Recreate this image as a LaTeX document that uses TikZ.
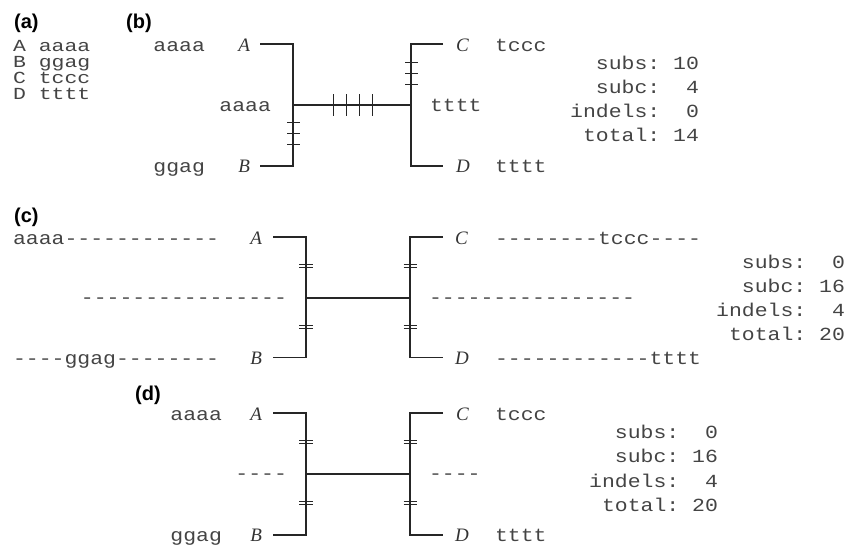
\documentclass[tikz,border=0pt]{standalone}
\usepackage{fontspec}
\setmainfont{Liberation Serif}
\newfontfamily\seqf[FakeStretch=1.16]{Liberation Mono}
\newfontfamily\seqa[FakeStretch=1.27]{Liberation Mono}
\newfontfamily\panf{Liberation Sans}
\definecolor{txt}{HTML}{444444}
\definecolor{lbl}{HTML}{333333}
\definecolor{ln}{HTML}{262626}
\tikzset{
  seq/.style={font=\seqf\fontsize{18.5}{18.5}\selectfont, inner sep=0pt, outer sep=0pt, text=txt},
  stat/.style={seq, anchor=base east},
  lab/.style={font=\itshape\fontsize{19}{19}\selectfont, inner sep=0pt, outer sep=0pt, text=lbl},
  pan/.style={font=\panf\bfseries\fontsize{20}{20}\selectfont, inner sep=0pt, anchor=base west},
  br/.style={line width=1.1pt, draw=ln},
  tk/.style={line width=1pt, draw=ln},
  dtk/.style={line width=0.8pt, draw=ln},
}
\begin{document}
\begin{tikzpicture}[x=1pt,y=-1pt]
\path[use as bounding box] (0,0) rectangle (856,546);
% ---------------- (a)
\node[pan] (pa) at (14,28) {(a)};
\node[seq, anchor=base west, align=left, font=\seqa\fontsize{16.9}{15.8}\selectfont] (aln) at (13,99)
  {A aaaa\\B ggag\\C tccc\\D tttt};
% ---------------- (b)
\node[pan] (pb) at (126,28) {(b)};
\coordinate (bA) at (260,44);  \coordinate (bAj) at (293,44);
\coordinate (bB) at (260,166); \coordinate (bBj) at (293,166);
\coordinate (bL) at (293,105); \coordinate (bR) at (411,105);
\coordinate (bC) at (443,44);  \coordinate (bCj) at (411,44);
\coordinate (bD) at (443,166); \coordinate (bDj) at (411,166);
\draw[br] (bA) -- (bAj) -- (bBj) -- (bB);
\draw[br] (bC) -- (bCj) -- (bDj) -- (bD);
\draw[br] (bL) -- (bR);
\foreach \x in {333,346,359,372} \draw[tk] (\x,94) -- (\x,116);
\foreach \y in {122,133,144} \draw[tk] (287,\y) -- (300,\y);
\foreach \y in {62,73,84} \draw[tk] (405,\y) -- (418,\y);
\node[seq,anchor=base east] (bsA) at (205,51.5) {aaaa};
\node[lab,anchor=base east] (blA) at (250,51.5) {A};
\node[seq,anchor=base east] (bsL) at (271,111) {aaaa};
\node[seq,anchor=base east] (bsB) at (205,172) {ggag};
\node[lab,anchor=base east] (blB) at (250,172) {B};
\node[lab,anchor=base west] (blC) at (456,51.5) {C};
\node[seq,anchor=base west] (bsC) at (495,51.5) {tccc};
\node[seq,anchor=base west] (bsR) at (430,111) {tttt};
\node[lab,anchor=base west] (blD) at (456,172) {D};
\node[seq,anchor=base west] (bsD) at (495,172) {tttt};
\node[stat] (bt1) at (699,69) {subs:\ 10};
\node[stat] (bt2) at (699,93) {subc:\ \ 4};
\node[stat] (bt3) at (699,117) {indels:\ \ 0};
\node[stat] (bt4) at (699,141) {total:\ 14};
% ---------------- (c)
\node[pan] (pc) at (14,222) {(c)};
\coordinate (cA) at (273,237);   \coordinate (cAj) at (306,237);
\coordinate (cB) at (273,357.5); \coordinate (cBj) at (306,357.5);
\coordinate (cL) at (306,298);   \coordinate (cR) at (410,298);
\coordinate (cC) at (443,237);   \coordinate (cCj) at (410,237);
\coordinate (cD) at (443,357.5); \coordinate (cDj) at (410,357.5);
\draw[br] (cA) -- (cAj) -- (cBj) -- (cB);
\draw[br] (cC) -- (cCj) -- (cDj) -- (cD);
\draw[br] (cL) -- (cR);
\foreach \y in {264,325} {
  \draw[dtk] (299,\y) -- (312.5,\y); \draw[dtk] (299,\y+3) -- (312.5,\y+3);
  \draw[dtk] (403.5,\y) -- (417,\y); \draw[dtk] (403.5,\y+3) -- (417,\y+3);
}
\node[seq,anchor=base west] (csA) at (13,244) {aaaa------------};
\node[lab,anchor=base east] (clA) at (262,244) {A};
\node[seq,anchor=base east] (csL) at (287,303) {----------------};
\node[seq,anchor=base west] (csB) at (13,364) {----ggag--------};
\node[lab,anchor=base east] (clB) at (262,364) {B};
\node[lab,anchor=base west] (clC) at (455,244) {C};
\node[seq,anchor=base west] (csC) at (495,244) {--------tccc----};
\node[seq,anchor=base west] (csR) at (429,303) {----------------};
\node[lab,anchor=base west] (clD) at (455,364) {D};
\node[seq,anchor=base west] (csD) at (495,364) {------------tttt};
\node[stat] (ct1) at (845,268) {subs:\ \ 0};
\node[stat] (ct2) at (845,292) {subc:\ 16};
\node[stat] (ct3) at (845,316) {indels:\ \ 4};
\node[stat] (ct4) at (845,340) {total:\ 20};
% ---------------- (d)
\node[pan] (pd) at (135,400) {(d)};
\coordinate (dA) at (273,413);   \coordinate (dAj) at (306,413);
\coordinate (dB) at (273,535);   \coordinate (dBj) at (306,535);
\coordinate (dL) at (306,474);   \coordinate (dR) at (410,474);
\coordinate (dC) at (443,413);   \coordinate (dCj) at (410,413);
\coordinate (dD) at (443,535);   \coordinate (dDj) at (410,535);
\draw[br] (dA) -- (dAj) -- (dBj) -- (dB);
\draw[br] (dC) -- (dCj) -- (dDj) -- (dD);
\draw[br] (dL) -- (dR);
\foreach \y in {440,501} {
  \draw[dtk] (299,\y) -- (312.5,\y); \draw[dtk] (299,\y+3) -- (312.5,\y+3);
  \draw[dtk] (403.5,\y) -- (417,\y); \draw[dtk] (403.5,\y+3) -- (417,\y+3);
}
\node[seq,anchor=base east] (dsA) at (222,420) {aaaa};
\node[lab,anchor=base east] (dlA) at (262,420) {A};
\node[seq,anchor=base east] (dsL) at (287,479) {----};
\node[seq,anchor=base east] (dsB) at (222,541) {ggag};
\node[lab,anchor=base east] (dlB) at (262,541) {B};
\node[lab,anchor=base west] (dlC) at (456,420) {C};
\node[seq,anchor=base west] (dsC) at (495,420) {tccc};
\node[seq,anchor=base west] (dsR) at (429,479) {----};
\node[lab,anchor=base west] (dlD) at (455,541) {D};
\node[seq,anchor=base west] (dsD) at (495,541) {tttt};
\node[stat] (dt1) at (718,438) {subs:\ \ 0};
\node[stat] (dt2) at (718,462) {subc:\ 16};
\node[stat] (dt3) at (718,487) {indels:\ \ 4};
\node[stat] (dt4) at (718,511) {total:\ 20};
\end{tikzpicture}
\end{document}
